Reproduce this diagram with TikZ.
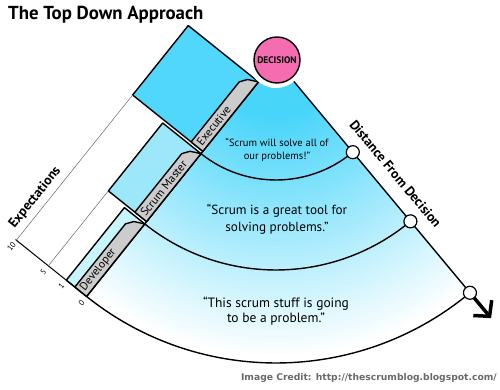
\documentclass[tikz,border=0pt]{standalone}
\usepackage{fontspec}
\setmainfont{PT Sans}
\newfontfamily\creditfont{DejaVu Sans}
\usetikzlibrary{calc,arrows.meta}

\definecolor{fantop}{RGB}{72,213,250}
\definecolor{execblue}{RGB}{80,215,251}
\definecolor{smblue}{RGB}{156,231,249}
\definecolor{devblue}{RGB}{200,244,252}
\definecolor{tabgray}{RGB}{204,204,204}
\definecolor{decpink}{RGB}{245,108,176}
\definecolor{creditgray}{RGB}{105,105,105}

% box on the left edge: #1 start, #2 end, #3 height, #4 colour, #5 text, #6 name
\newcommand{\levelbox}[6]{%
  \draw[edge, fill=#4] (#1,0) rectangle (#2,-#3);
  \draw[edge, fill=tabgray] (#1,0) -- ({#1+5},-10) -- ({#1+12},-15) -- (#2,-15) -- (#2,0) -- cycle;
  \node[tab] (#6) at ({#2-3},-7.5) {#5};
}

\begin{document}
\begin{tikzpicture}[x=1pt, y=1pt,
    edge/.style={line width=1.4pt, line join=round},
    guide/.style={line width=0.5pt, black!60},
    tab/.style={rotate=51.3, anchor=west, inner sep=0pt, font=\fontsize{11.5}{12}\selectfont},
    ticklabel/.style={rotate=51.3, inner sep=0pt, font=\fontsize{8}{8}\selectfont},
    axislabel/.style={inner sep=0pt, font=\bfseries\fontsize{13.5}{14}\selectfont},
    stopdot/.style={circle, draw, fill=white, line width=1.2pt, minimum size=13pt, inner sep=0pt},
    decision/.style={circle, draw, line width=1.4pt, fill=decpink, minimum size=46pt, inner sep=0pt,
        font=\bfseries\fontsize{9.5}{10}\selectfont},
  ]
  \useasboundingbox (0,0) rectangle (500,390);

  % Title
  \node[anchor=base west, inner sep=0pt, font=\bfseries\fontsize{18.8}{19}\selectfont] (title) at (8,370) {The Top Down Approach};

  \begin{scope}[shift={(276,330)}]
    \def\La{231.3} % left edge
    \def\Ra{309.8} % right edge
    \coordinate (C) at (0,0);

    % Fan, fading from cyan to white
    \begin{scope}
      \clip (\La:28) -- (\La:303) arc[start angle=\La, end angle=\Ra, radius=303]
        -- (\Ra:28) arc[start angle=\Ra, end angle=\La, radius=28] -- cycle;
      \foreach \r in {310,306,...,30} {
        \pgfmathtruncatemacro{\p}{max(0,min(100,(300-\r)/2.4))}
        \fill[fantop!\p!white] (C) circle (\r);
      }
    \end{scope}
    \foreach \r in {120,210,303}
      \draw[edge] (\La:\r) arc[start angle=\La, end angle=\Ra, radius=\r];
    \draw[edge] (\La:28) -- (\La:303);

    % Levels and expectations
    \begin{scope}[rotate=\La]
      \levelbox{28}{117}{90}{execblue}{Executive}{exec}
      \levelbox{120}{207}{49}{smblue}{Scrum Master}{sm}
      \levelbox{210}{303}{26}{devblue}{Developer}{dev}
      \draw[line width=1pt] (303,0) -- (303,-91);
      \draw[guide] (303,-90) -- (117,-90);
      \draw[guide] (303,-49) -- (207,-49);
      \foreach \v/\t in {0/0,26/1,49/5,90/10}
        \node[ticklabel] (t\t) at (311,-\v) {\t};
      \node[axislabel, rotate=51.3] (expect) at (258,-102) {Expectations};
    \end{scope}

    % Decision
    \fill[white] (C) circle (28);
    \coordinate (top) at (\Ra:28);
    \coordinate (end) at (\Ra:303);
    \coordinate (tip) at (\Ra:336);
    \draw[edge] (top) -- (end);
    \draw[line width=3.5pt, -{Straight Barb[length=11pt, width=24pt]}] (end) -- (tip);
    \foreach \r/\n in {120/s1,210/s2,303/s3}
      \node[stopdot] (\n) at (\Ra:\r) {};
    \node[decision] (dec) at (1,0) {DECISION};
    \node[axislabel, rotate=-50.2] (dist) at ($(\Ra:164)+({\Ra+90}:19)$) {Distance From Decision};

    % Quotes
    \node[align=center, font=\fontsize{10.5}{13.3}\selectfont] (q1) at (1,-90) {“Scrum will solve all of\\our problems!”};
    \node[align=center, font=\fontsize{13.2}{17}\selectfont] (q2) at (1,-159) {“Scrum is a great tool for\\solving problems.”};
    \node[align=center, font=\fontsize{13.5}{15}\selectfont] (q3) at (0,-251) {“This scrum stuff is going\\to be a problem.”};
  \end{scope}

  % Credit
  \node[anchor=east, inner sep=0pt, text=creditgray, font=\creditfont\bfseries\fontsize{9.2}{9}\selectfont] (credit) at (497,12) {Image Credit: http://thescrumblog.blogspot.com/};
\end{tikzpicture}
\end{document}
